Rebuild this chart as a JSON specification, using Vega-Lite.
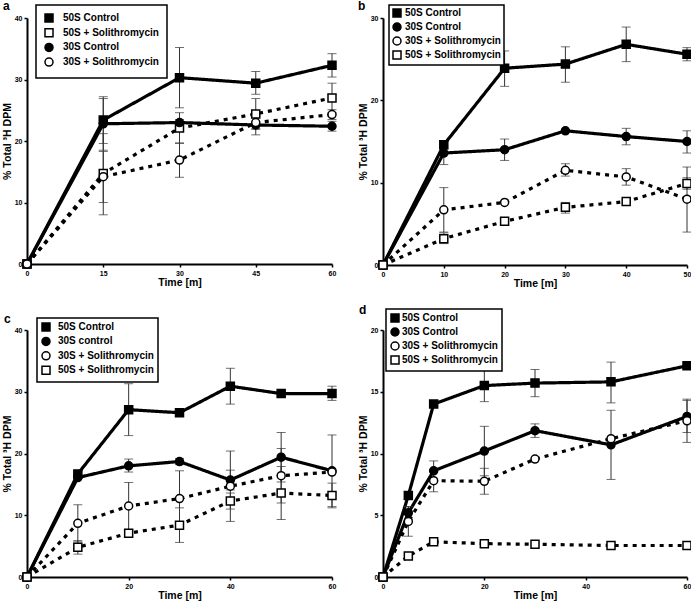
{
  "$schema": "https://vega.github.io/schema/vega-lite/v6.json",
  "background": "white",
  "padding": {"left": 2, "top": 0, "right": 0, "bottom": 0},
  "datasets": {
    "pts": [
      {"p":"a","s":"50S Control","t":0,"v":0,"lo":null,"hi":null},
      {"p":"a","s":"50S Control","t":15,"v":23.4,"lo":19.6,"hi":27.2},
      {"p":"a","s":"50S Control","t":30,"v":30.3,"lo":25.4,"hi":35.2},
      {"p":"a","s":"50S Control","t":45,"v":29.4,"lo":27.6,"hi":31.3},
      {"p":"a","s":"50S Control","t":60,"v":32.3,"lo":30.4,"hi":34.2},
      {"p":"a","s":"50S + Solithromycin","t":0,"v":0,"lo":null,"hi":null},
      {"p":"a","s":"50S + Solithromycin","t":15,"v":14.7,"lo":8.0,"hi":21.2},
      {"p":"a","s":"50S + Solithromycin","t":30,"v":22.1,"lo":19.6,"hi":24.6},
      {"p":"a","s":"50S + Solithromycin","t":45,"v":24.4,"lo":21.9,"hi":26.9},
      {"p":"a","s":"50S + Solithromycin","t":60,"v":27.0,"lo":24.6,"hi":29.4},
      {"p":"a","s":"30S Control","t":0,"v":0,"lo":null,"hi":null},
      {"p":"a","s":"30S Control","t":15,"v":22.8,"lo":18.5,"hi":26.9},
      {"p":"a","s":"30S Control","t":30,"v":23.0,"lo":22.5,"hi":23.5},
      {"p":"a","s":"30S Control","t":45,"v":22.6,"lo":21.0,"hi":24.2},
      {"p":"a","s":"30S Control","t":60,"v":22.4,"lo":21.6,"hi":23.2},
      {"p":"a","s":"30S + Solithromycin","t":0,"v":0,"lo":null,"hi":null},
      {"p":"a","s":"30S + Solithromycin","t":15,"v":14.2,"lo":10.0,"hi":18.3},
      {"p":"a","s":"30S + Solithromycin","t":30,"v":16.9,"lo":14.1,"hi":19.7},
      {"p":"a","s":"30S + Solithromycin","t":45,"v":23.0,"lo":22.0,"hi":24.0},
      {"p":"a","s":"30S + Solithromycin","t":60,"v":24.3,"lo":23.5,"hi":25.1},

      {"p":"b","s":"50S Control","t":0,"v":0,"lo":null,"hi":null},
      {"p":"b","s":"50S Control","t":10,"v":14.6,"lo":14.1,"hi":15.1},
      {"p":"b","s":"50S Control","t":20,"v":23.9,"lo":21.7,"hi":26.0},
      {"p":"b","s":"50S Control","t":30,"v":24.4,"lo":22.2,"hi":26.5},
      {"p":"b","s":"50S Control","t":40,"v":26.8,"lo":24.7,"hi":28.9},
      {"p":"b","s":"50S Control","t":50,"v":25.6,"lo":24.8,"hi":26.4},
      {"p":"b","s":"30S Control","t":0,"v":0,"lo":null,"hi":null},
      {"p":"b","s":"30S Control","t":10,"v":13.6,"lo":12.2,"hi":15.0},
      {"p":"b","s":"30S Control","t":20,"v":14.0,"lo":12.7,"hi":15.3},
      {"p":"b","s":"30S Control","t":30,"v":16.3,"lo":null,"hi":null},
      {"p":"b","s":"30S Control","t":40,"v":15.6,"lo":14.6,"hi":16.6},
      {"p":"b","s":"30S Control","t":50,"v":15.0,"lo":13.6,"hi":16.3},
      {"p":"b","s":"30S + Solithromycin","t":0,"v":0,"lo":null,"hi":null},
      {"p":"b","s":"30S + Solithromycin","t":10,"v":6.7,"lo":4.0,"hi":9.4},
      {"p":"b","s":"30S + Solithromycin","t":20,"v":7.6,"lo":null,"hi":null},
      {"p":"b","s":"30S + Solithromycin","t":30,"v":11.5,"lo":10.8,"hi":12.3},
      {"p":"b","s":"30S + Solithromycin","t":40,"v":10.7,"lo":9.7,"hi":11.7},
      {"p":"b","s":"30S + Solithromycin","t":50,"v":8.0,"lo":4.0,"hi":11.9},
      {"p":"b","s":"50S + Solithromycin","t":0,"v":0,"lo":null,"hi":null},
      {"p":"b","s":"50S + Solithromycin","t":10,"v":3.2,"lo":2.6,"hi":3.9},
      {"p":"b","s":"50S + Solithromycin","t":20,"v":5.3,"lo":null,"hi":null},
      {"p":"b","s":"50S + Solithromycin","t":30,"v":7.0,"lo":6.3,"hi":7.6},
      {"p":"b","s":"50S + Solithromycin","t":40,"v":7.7,"lo":null,"hi":null},
      {"p":"b","s":"50S + Solithromycin","t":50,"v":9.9,"lo":9.2,"hi":10.6},

      {"p":"c","s":"50S Control","t":0,"v":0,"lo":null,"hi":null},
      {"p":"c","s":"50S Control","t":10,"v":16.7,"lo":16.2,"hi":17.2},
      {"p":"c","s":"50S Control","t":20,"v":27.1,"lo":22.9,"hi":31.3},
      {"p":"c","s":"50S Control","t":30,"v":26.6,"lo":null,"hi":null},
      {"p":"c","s":"50S Control","t":40,"v":30.9,"lo":28.0,"hi":33.8},
      {"p":"c","s":"50S Control","t":50,"v":29.7,"lo":null,"hi":null},
      {"p":"c","s":"50S Control","t":60,"v":29.7,"lo":28.6,"hi":30.9},
      {"p":"c","s":"30S control","t":0,"v":0,"lo":null,"hi":null},
      {"p":"c","s":"30S control","t":10,"v":16.1,"lo":null,"hi":null},
      {"p":"c","s":"30S control","t":20,"v":18.0,"lo":17.0,"hi":19.1},
      {"p":"c","s":"30S control","t":30,"v":18.7,"lo":18.2,"hi":19.2},
      {"p":"c","s":"30S control","t":40,"v":15.7,"lo":14.1,"hi":17.3},
      {"p":"c","s":"30S control","t":50,"v":19.4,"lo":15.4,"hi":23.4},
      {"p":"c","s":"30S control","t":60,"v":17.2,"lo":11.4,"hi":23.0},
      {"p":"c","s":"30S + Solithromycin","t":0,"v":0,"lo":null,"hi":null},
      {"p":"c","s":"30S + Solithromycin","t":10,"v":8.7,"lo":5.7,"hi":11.7},
      {"p":"c","s":"30S + Solithromycin","t":20,"v":11.5,"lo":7.7,"hi":15.3},
      {"p":"c","s":"30S + Solithromycin","t":30,"v":12.7,"lo":8.2,"hi":17.2},
      {"p":"c","s":"30S + Solithromycin","t":40,"v":14.7,"lo":9.0,"hi":20.4},
      {"p":"c","s":"30S + Solithromycin","t":50,"v":16.4,"lo":12.0,"hi":20.8},
      {"p":"c","s":"30S + Solithromycin","t":60,"v":17.0,"lo":null,"hi":null},
      {"p":"c","s":"50S + Solithromycin","t":0,"v":0,"lo":null,"hi":null},
      {"p":"c","s":"50S + Solithromycin","t":10,"v":4.8,"lo":3.7,"hi":5.9},
      {"p":"c","s":"50S + Solithromycin","t":20,"v":7.1,"lo":null,"hi":null},
      {"p":"c","s":"50S + Solithromycin","t":30,"v":8.4,"lo":5.6,"hi":11.2},
      {"p":"c","s":"50S + Solithromycin","t":40,"v":12.3,"lo":11.0,"hi":13.6},
      {"p":"c","s":"50S + Solithromycin","t":50,"v":13.6,"lo":9.3,"hi":17.9},
      {"p":"c","s":"50S + Solithromycin","t":60,"v":13.2,"lo":11.2,"hi":15.2},

      {"p":"d","s":"50S Control","t":0,"v":0,"lo":null,"hi":null},
      {"p":"d","s":"50S Control","t":5,"v":6.6,"lo":6.3,"hi":6.9},
      {"p":"d","s":"50S Control","t":10,"v":14.0,"lo":13.8,"hi":14.3},
      {"p":"d","s":"50S Control","t":20,"v":15.5,"lo":14.2,"hi":16.8},
      {"p":"d","s":"50S Control","t":30,"v":15.7,"lo":14.6,"hi":16.8},
      {"p":"d","s":"50S Control","t":45,"v":15.8,"lo":14.1,"hi":17.4},
      {"p":"d","s":"50S Control","t":60,"v":17.1,"lo":null,"hi":null},
      {"p":"d","s":"30S Control","t":0,"v":0,"lo":null,"hi":null},
      {"p":"d","s":"30S Control","t":5,"v":5.2,"lo":4.7,"hi":5.7},
      {"p":"d","s":"30S Control","t":10,"v":8.6,"lo":7.8,"hi":9.4},
      {"p":"d","s":"30S Control","t":20,"v":10.2,"lo":8.2,"hi":12.2},
      {"p":"d","s":"30S Control","t":30,"v":11.85,"lo":11.3,"hi":12.4},
      {"p":"d","s":"30S Control","t":45,"v":10.7,"lo":7.9,"hi":13.5},
      {"p":"d","s":"30S Control","t":60,"v":13.0,"lo":11.7,"hi":14.3},
      {"p":"d","s":"30S + Solithromycin","t":0,"v":0,"lo":null,"hi":null},
      {"p":"d","s":"30S + Solithromycin","t":5,"v":4.5,"lo":3.3,"hi":5.7},
      {"p":"d","s":"30S + Solithromycin","t":10,"v":7.8,"lo":6.9,"hi":8.7},
      {"p":"d","s":"30S + Solithromycin","t":20,"v":7.75,"lo":6.7,"hi":8.8},
      {"p":"d","s":"30S + Solithromycin","t":30,"v":9.55,"lo":null,"hi":null},
      {"p":"d","s":"30S + Solithromycin","t":45,"v":11.2,"lo":null,"hi":null},
      {"p":"d","s":"30S + Solithromycin","t":60,"v":12.65,"lo":10.9,"hi":14.4},
      {"p":"d","s":"50S + Solithromycin","t":0,"v":0,"lo":null,"hi":null},
      {"p":"d","s":"50S + Solithromycin","t":5,"v":1.7,"lo":null,"hi":null},
      {"p":"d","s":"50S + Solithromycin","t":10,"v":2.85,"lo":null,"hi":null},
      {"p":"d","s":"50S + Solithromycin","t":20,"v":2.7,"lo":null,"hi":null},
      {"p":"d","s":"50S + Solithromycin","t":30,"v":2.65,"lo":null,"hi":null},
      {"p":"d","s":"50S + Solithromycin","t":45,"v":2.55,"lo":null,"hi":null},
      {"p":"d","s":"50S + Solithromycin","t":60,"v":2.55,"lo":null,"hi":null}
    ]
  },
  "data": {"name": "pts"},
  "columns": 2,
  "spacing": {"row": 15, "column": 19},
  "resolve": {"scale": {"shape": "independent", "fill": "independent", "stroke": "independent", "strokeDash": "independent"}},
  "concat": [
    {
      "width": 305, "height": 246,
      "title": {"text": "a", "dx": -24},
      "transform": [{"filter": "datum.p == 'a'"}],
      "encoding": {"x": {"field": "t", "type": "quantitative", "title": "Time [m]", "scale": {"domain": [0, 60]}, "axis": {"values": [0, 15, 30, 45, 60]}}},
      "layer": [
        {"mark": {"type": "line", "color": "black", "strokeWidth": 3.2, "strokeCap": "butt"},
         "encoding": {"y": {"field": "v", "type": "quantitative", "title": "% Total ³H DPM", "scale": {"domain": [0, 40]}, "axis": {"values": [0, 10, 20, 30, 40]}},
          "strokeDash": {"field": "s", "type": "nominal", "legend": null, "scale": {"domain": ["30S + Solithromycin", "30S Control", "50S + Solithromycin", "50S Control"], "range": [[4, 5], [1, 0], [4, 5], [1, 0]]}}}},
        {"transform": [{"filter": "datum.lo != null"}], "mark": {"type": "errorbar", "ticks": {"size": 9}, "color": "#333", "thickness": 1},
         "encoding": {"y": {"field": "lo", "type": "quantitative", "title": "% Total ³H DPM"}, "y2": {"field": "hi"}}},
        {"mark": {"type": "point", "filled": false, "color": "black", "strokeWidth": 1.5, "size": 64, "opacity": 1},
         "encoding": {"y": {"field": "v", "type": "quantitative", "title": "% Total ³H DPM"},
          "shape": {"field": "s", "type": "nominal", "scale": {"domain": ["50S Control", "50S + Solithromycin", "30S Control", "30S + Solithromycin"], "range": ["square", "square", "circle", "circle"]},
            "legend": {"orient": "none", "legendX": 9, "legendY": -13, "title": null, "rowPadding": 0.7, "padding": 8, "labelOffset": 9}},
          "fill": {"field": "s", "type": "nominal", "scale": {"domain": ["50S Control", "50S + Solithromycin", "30S Control", "30S + Solithromycin"], "range": ["black", "white", "black", "white"]},
            "legend": {"orient": "none", "legendX": 9, "legendY": -13, "title": null, "rowPadding": 0.7, "padding": 8, "labelOffset": 9}},
          "stroke": {"field": "s", "type": "nominal", "scale": {"domain": ["50S Control", "50S + Solithromycin", "30S Control", "30S + Solithromycin"], "range": ["black", "black", "black", "black"]},
            "legend": {"orient": "none", "legendX": 9, "legendY": -13, "title": null, "rowPadding": 0.7, "padding": 8, "labelOffset": 9}}}}
      ]
    },
    {
      "width": 304, "height": 247,
      "title": {"text": "b", "dx": -25},
      "transform": [{"filter": "datum.p == 'b'"}],
      "encoding": {"x": {"field": "t", "type": "quantitative", "title": "Time [m]", "scale": {"domain": [0, 50]}, "axis": {"values": [0, 10, 20, 30, 40, 50]}}},
      "layer": [
        {"mark": {"type": "line", "color": "black", "strokeWidth": 3.2, "strokeCap": "butt"},
         "encoding": {"y": {"field": "v", "type": "quantitative", "title": "% Total ³H DPM", "scale": {"domain": [0, 30]}, "axis": {"values": [0, 10, 20, 30]}},
          "strokeDash": {"field": "s", "type": "nominal", "legend": null, "scale": {"domain": ["30S + Solithromycin", "30S Control", "50S + Solithromycin", "50S Control"], "range": [[4, 5], [1, 0], [4, 5], [1, 0]]}}}},
        {"transform": [{"filter": "datum.lo != null"}], "mark": {"type": "errorbar", "ticks": {"size": 9}, "color": "#333", "thickness": 1},
         "encoding": {"y": {"field": "lo", "type": "quantitative", "title": "% Total ³H DPM"}, "y2": {"field": "hi"}}},
        {"mark": {"type": "point", "filled": false, "color": "black", "strokeWidth": 1.5, "size": 64, "opacity": 1},
         "encoding": {"y": {"field": "v", "type": "quantitative", "title": "% Total ³H DPM"},
          "shape": {"field": "s", "type": "nominal", "scale": {"domain": ["50S Control", "30S Control", "30S + Solithromycin", "50S + Solithromycin"], "range": ["square", "circle", "circle", "square"]},
            "legend": {"orient": "none", "legendX": 6, "legendY": -13, "title": null, "rowPadding": 0, "padding": 3, "labelOffset": 3}},
          "fill": {"field": "s", "type": "nominal", "scale": {"domain": ["50S Control", "30S Control", "30S + Solithromycin", "50S + Solithromycin"], "range": ["black", "black", "white", "white"]},
            "legend": {"orient": "none", "legendX": 6, "legendY": -13, "title": null, "rowPadding": 0, "padding": 3, "labelOffset": 3}},
          "stroke": {"field": "s", "type": "nominal", "scale": {"domain": ["50S Control", "30S Control", "30S + Solithromycin", "50S + Solithromycin"], "range": ["black", "black", "black", "black"]},
            "legend": {"orient": "none", "legendX": 6, "legendY": -13, "title": null, "rowPadding": 0, "padding": 3, "labelOffset": 3}}}}
      ]
    },
    {
      "width": 305, "height": 247,
      "title": {"text": "c", "dx": -23},
      "transform": [{"filter": "datum.p == 'c'"}],
      "encoding": {"x": {"field": "t", "type": "quantitative", "title": "Time [m]", "scale": {"domain": [0, 60]}, "axis": {"values": [0, 20, 40, 60]}}},
      "layer": [
        {"mark": {"type": "line", "color": "black", "strokeWidth": 3.2, "strokeCap": "butt"},
         "encoding": {"y": {"field": "v", "type": "quantitative", "title": "% Total ³H DPM", "scale": {"domain": [0, 40]}, "axis": {"values": [0, 10, 20, 30, 40]}},
          "strokeDash": {"field": "s", "type": "nominal", "legend": null, "scale": {"domain": ["30S + Solithromycin", "30S control", "50S + Solithromycin", "50S Control"], "range": [[4, 5], [1, 0], [4, 5], [1, 0]]}}}},
        {"transform": [{"filter": "datum.lo != null"}], "mark": {"type": "errorbar", "ticks": {"size": 9}, "color": "#333", "thickness": 1},
         "encoding": {"y": {"field": "lo", "type": "quantitative", "title": "% Total ³H DPM"}, "y2": {"field": "hi"}}},
        {"mark": {"type": "point", "filled": false, "color": "black", "strokeWidth": 1.5, "size": 64, "opacity": 1},
         "encoding": {"y": {"field": "v", "type": "quantitative", "title": "% Total ³H DPM"},
          "shape": {"field": "s", "type": "nominal", "scale": {"domain": ["50S Control", "30S control", "30S + Solithromycin", "50S + Solithromycin"], "range": ["square", "circle", "circle", "square"]},
            "legend": {"orient": "none", "legendX": 10, "legendY": -12, "title": null, "rowPadding": 0.4, "padding": 4, "labelOffset": 7}},
          "fill": {"field": "s", "type": "nominal", "scale": {"domain": ["50S Control", "30S control", "30S + Solithromycin", "50S + Solithromycin"], "range": ["black", "black", "white", "white"]},
            "legend": {"orient": "none", "legendX": 10, "legendY": -12, "title": null, "rowPadding": 0.4, "padding": 4, "labelOffset": 7}},
          "stroke": {"field": "s", "type": "nominal", "scale": {"domain": ["50S Control", "30S control", "30S + Solithromycin", "50S + Solithromycin"], "range": ["black", "black", "black", "black"]},
            "legend": {"orient": "none", "legendX": 10, "legendY": -12, "title": null, "rowPadding": 0.4, "padding": 4, "labelOffset": 7}}}}
      ]
    },
    {
      "width": 304, "height": 247,
      "title": {"text": "d", "dx": -24},
      "transform": [{"filter": "datum.p == 'd'"}],
      "encoding": {"x": {"field": "t", "type": "quantitative", "title": "Time [m]", "scale": {"domain": [0, 60]}, "axis": {"values": [0, 20, 40, 60]}}},
      "layer": [
        {"mark": {"type": "line", "color": "black", "strokeWidth": 3.2, "strokeCap": "butt"},
         "encoding": {"y": {"field": "v", "type": "quantitative", "title": "% Total ³H DPM", "scale": {"domain": [0, 20]}, "axis": {"values": [0, 5, 10, 15, 20]}},
          "strokeDash": {"field": "s", "type": "nominal", "legend": null, "scale": {"domain": ["30S + Solithromycin", "30S Control", "50S + Solithromycin", "50S Control"], "range": [[4, 5], [1, 0], [4, 5], [1, 0]]}}}},
        {"transform": [{"filter": "datum.lo != null"}], "mark": {"type": "errorbar", "ticks": {"size": 9}, "color": "#333", "thickness": 1},
         "encoding": {"y": {"field": "lo", "type": "quantitative", "title": "% Total ³H DPM"}, "y2": {"field": "hi"}}},
        {"mark": {"type": "point", "filled": false, "color": "black", "strokeWidth": 1.5, "size": 64, "opacity": 1},
         "encoding": {"y": {"field": "v", "type": "quantitative", "title": "% Total ³H DPM"},
          "shape": {"field": "s", "type": "nominal", "scale": {"domain": ["50S Control", "30S Control", "30S + Solithromycin", "50S + Solithromycin"], "range": ["square", "circle", "circle", "square"]},
            "legend": {"orient": "none", "legendX": 3, "legendY": -21, "title": null, "rowPadding": 0, "padding": 4, "labelOffset": 2}},
          "fill": {"field": "s", "type": "nominal", "scale": {"domain": ["50S Control", "30S Control", "30S + Solithromycin", "50S + Solithromycin"], "range": ["black", "black", "white", "white"]},
            "legend": {"orient": "none", "legendX": 3, "legendY": -21, "title": null, "rowPadding": 0, "padding": 4, "labelOffset": 2}},
          "stroke": {"field": "s", "type": "nominal", "scale": {"domain": ["50S Control", "30S Control", "30S + Solithromycin", "50S + Solithromycin"], "range": ["black", "black", "black", "black"]},
            "legend": {"orient": "none", "legendX": 3, "legendY": -21, "title": null, "rowPadding": 0, "padding": 4, "labelOffset": 2}}}}
      ]
    }
  ],
  "config": {
    "view": {"stroke": null},
    "font": "Liberation Sans",
    "title": {"anchor": "start", "frame": "group", "fontSize": 12, "fontWeight": "bold", "color": "black", "offset": -9},
    "axis": {"grid": false, "domainColor": "black", "domainWidth": 2, "tickColor": "black", "tickWidth": 1.5, "tickSize": 3, "labelFontSize": 7, "labelFontWeight": "bold", "labelColor": "black", "labelPadding": 2, "titleFontSize": 10.5, "titleFontWeight": "bold", "titleColor": "black", "titlePadding": 2},
    "axisX": {"labelFlush": false, "titlePadding": 1},
    "legend": {"fillColor": "white", "strokeColor": "black", "strokeWidth": 1.5, "labelFontSize": 10, "labelFontWeight": "bold", "labelColor": "black", "symbolStrokeColor": "black", "symbolStrokeWidth": 1.5, "symbolSize": 64}
  }
}
